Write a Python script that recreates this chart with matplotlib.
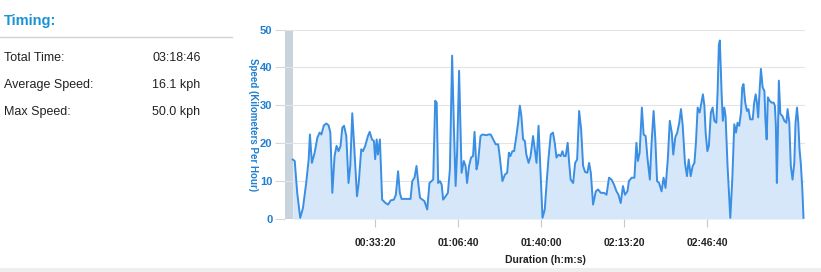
import matplotlib

matplotlib.use("Agg")
import matplotlib.pyplot as plt
from matplotlib.ticker import FuncFormatter, MultipleLocator

plt.rcParams["font.family"] = ["Liberation Sans", "DejaVu Sans"]

# ride summary (left panel)
summary_labels = ["Total Time:", "Average Speed:", "Max Speed:"]
summary_values = ["03:18:46", "16.1 kph", "50.0 kph"]

# x ticks every 2000 s, as on the chart
tick_seconds = [2000, 4000, 6000, 8000, 10000]

# speed trace: elapsed minutes / km per hour
elapsed_min = [
    0.3, 1.1, 2.1, 3.3, 4.4, 5.7, 6.7, 7.2, 8.0, 9.1, 10.2, 11.1, 11.8, 12.8, 13.8,
    14.7, 15.4, 16.2, 17.1, 17.9, 18.7, 19.5, 20.2, 20.9, 21.8, 22.7, 23.4, 24.2,
    24.9, 26.1, 26.8, 27.8, 28.5, 29.4, 30.5, 31.2, 32.1, 32.9,
    33.4, 34.0, 34.5, 35.3, 36.2, 37.6, 38.6, 39.6, 40.9, 41.7, 42.6, 43.3, 44.0,
    46.3, 47.6, 48.3, 49.2, 50.0, 50.7, 51.4, 52.4, 53.2, 54.3, 55.2, 56.0, 56.7,
    57.5, 58.1, 58.7, 59.4, 60.1, 60.7, 61.7, 62.6, 63.4, 64.3, 65.0, 65.7, 66.3, 67.1,
    68.1, 69.0, 69.7, 70.3, 71.1, 71.9, 72.7, 73.3, 74.1, 74.7, 75.7, 76.5, 78.1,
    78.9, 79.8, 80.8, 81.8, 82.8, 83.4, 84.5, 85.5, 86.4, 87.1, 87.7, 88.5, 89.2,
    90.1, 90.8, 91.5, 92.1, 92.8, 93.5, 94.1, 95.0, 95.8, 96.8, 97.5, 98.2, 99.0,
    99.6, 100.6, 101.5, 102.3, 103.0,
    103.9, 104.8, 105.5, 106.2, 107.0, 107.9, 108.6, 109.2, 109.9, 110.7, 111.3,
    111.9, 112.9, 113.7, 114.5, 115.3, 116.1, 116.9, 117.7, 118.6, 119.3, 120.0,
    120.9, 122.0, 122.9, 124.0, 125.3, 126.3, 127.3, 128.3, 129.3, 130.3, 131.1,
    132.0, 132.9, 133.7, 134.7, 135.3, 136.4,
    137.5, 138.3, 138.9, 139.6, 140.5, 141.2, 142.0, 142.8, 143.7, 144.4, 145.2,
    145.9, 146.6, 147.4, 148.4, 149.2, 150.0, 150.9, 151.7, 152.5, 153.1, 153.9,
    154.7, 155.5, 156.2, 156.9, 157.8, 158.6, 159.3, 160.1, 160.9, 161.6, 162.2,
    162.9, 163.7, 164.4, 165.0, 165.6, 166.1, 166.8, 167.4, 168.2, 168.9, 169.6,
    170.4, 170.9, 171.4,
    171.8, 172.5, 173.0, 173.6, 174.1, 174.9, 176.0, 176.8, 177.6, 178.3, 178.9,
    179.6, 180.3, 180.8, 181.3, 182.0, 182.7, 183.3, 184.0, 185.0, 185.6, 186.2,
    186.7, 187.2, 187.8, 188.3, 189.0, 189.7, 190.1, 190.6, 191.1, 191.8, 192.6,
    193.4, 193.9, 194.3, 194.7, 195.1, 195.5, 196.1, 196.9, 197.7, 198.5, 199.0,
    199.7, 200.3, 201.0, 201.7, 202.2, 202.8, 203.3, 203.8, 204.3, 204.9, 205.4,
]
speed_kph = [
    15.7, 15.3, 6.9, 0.3, 2.9, 9.5, 15.7, 22.3, 14.8, 17.5, 21.5, 22.8, 22.3, 24.7, 25.2,
    24.7, 22.8, 6.9, 16.6, 19.3, 17.9, 19.3, 24.1, 24.6, 21.9, 9.5, 14.0, 27.9,
    20.1, 6.0, 9.5, 18.4, 17.9, 19.3, 21.9, 23.0, 21.0, 20.6,
    15.8, 21.0, 17.0, 21.0, 5.1, 4.2, 3.8, 4.9, 5.1, 6.4, 12.6, 6.9, 5.3,
    5.3, 5.3, 10.0, 10.9, 14.0, 9.5, 5.6, 5.1, 4.7, 2.5, 9.5, 10.0, 10.4,
    31.2, 30.7, 9.5, 10.0, 9.1, 5.1, 6.0, 6.9, 13.1, 43.1, 24.6, 8.7, 17.5, 39.1,
    12.2, 15.3, 14.0, 9.5, 14.0, 16.2, 16.6, 23.0, 13.1, 14.8, 21.9, 22.3, 22.1,
    22.3, 22.3, 21.0, 19.7, 19.7, 16.6, 10.0, 11.7, 12.2, 17.5, 16.6, 17.9, 17.9,
    21.9, 25.4, 29.9, 27.2, 21.0, 20.6, 17.0, 14.8, 16.6, 21.9, 18.4, 14.8, 24.6,
    15.7, 0.3, 2.5, 10.0, 16.0,
    22.3, 22.8, 20.1, 16.2, 17.0, 16.6, 17.9, 16.6, 16.6, 20.1, 14.8,
    10.4, 9.5, 14.8, 15.7, 28.5, 23.7, 14.0, 12.4, 12.2, 14.8, 12.2,
    3.8, 7.3, 7.8, 6.9, 6.9, 6.4, 10.9, 10.4, 9.1, 7.3, 6.4,
    4.2, 8.7, 6.4, 7.3, 10.0, 10.9,
    10.9, 20.1, 15.3, 17.5, 29.4, 22.3, 21.9, 15.7, 10.4, 20.1, 28.5,
    21.0, 10.0, 9.5, 7.3, 10.9, 8.2, 15.7, 25.9, 22.8, 17.0, 21.5,
    22.8, 25.4, 29.0, 24.6, 14.8, 11.3, 15.7, 11.3, 14.0, 14.8, 20.1,
    29.4, 28.1, 30.7, 32.9, 29.9, 22.8, 17.9, 19.3, 28.1, 29.4, 25.9,
    25.4, 33.4, 45.8,
    47.1, 33.4, 25.9, 29.4, 27.2, 14.0, 0.3, 10.4, 25.0, 22.8, 25.4,
    24.6, 28.1, 34.7, 35.6, 30.7, 28.5, 29.0, 26.3, 26.3, 30.7, 32.9,
    30.7, 26.8, 34.3, 39.6, 34.7, 33.8, 26.3, 21.0, 32.1, 31.2, 30.7,
    30.7, 29.9, 24.6, 9.5, 21.9, 36.5, 27.7, 27.2, 25.9, 25.4, 29.0,
    25.4, 14.0, 10.4, 14.8, 25.4, 29.4, 25.4, 18.4, 14.8, 8.2, 0.3,
]

BLUE = "#1f7fcf"
LINE = "#3a8ee4"
FILL = "#d5e7f8"

W, H = 821, 272
fig = plt.figure(figsize=(W / 100, H / 100), dpi=100)
fig.patch.set_facecolor("white")


def fx(px):
    return px / W


def fy(py):
    return 1 - py / H


# left panel
fig.text(fx(4), fy(21), "Timing:", color="#1a93d4", fontsize=10.5,
         fontweight="bold", va="center", ha="left")
fig.add_artist(plt.Line2D([0, fx(232)], [fy(37), fy(37)], color="#d3d3d3", lw=1))
for i, (lab, val) in enumerate(zip(summary_labels, summary_values)):
    y = fy(58 + i * 27)
    fig.text(fx(4), y, lab, fontsize=9, color="#222222", va="center")
    fig.text(fx(152), y, val, fontsize=9, color="#222222", va="center")

# bottom strip
fig.add_artist(plt.Rectangle((0, 0), 1, fy(268), color="#eeeeee", lw=0))

ax = fig.add_axes([fx(285), fy(219), fx(805 - 285), (219 - 29.5) / H])
t_sec = [m * 60 for m in elapsed_min]
ax.fill_between(t_sec, speed_kph, 0, color=FILL, lw=0, zorder=1)
ax.plot(t_sec, speed_kph, color=LINE, lw=1.4, zorder=3, solid_joinstyle="round")

x0 = -7 * 24.07
ax.set_xlim(x0, 12360)
ax.set_ylim(0, 50)
ax.axvspan(x0, 0.4 * 60, color="#c9d3dc", lw=0, zorder=0.5)

ax.yaxis.set_major_locator(MultipleLocator(10))
ax.set_xticks(tick_seconds)
ax.grid(axis="y", color="#e4e4e4", lw=0.8, zorder=0)
ax.set_axisbelow(True)
for s in ax.spines.values():
    s.set_visible(False)


def hms(v, _pos):
    v = int(round(v))
    return f"{v // 3600:02d}:{v % 3600 // 60:02d}:{v % 60:02d}"


ax.xaxis.set_major_formatter(FuncFormatter(hms))
ax.tick_params(axis="x", length=6, color="#c8c8c8", width=0.8, pad=8,
               labelsize=7.5, labelcolor="#222222")
ax.tick_params(axis="y", length=7, color="#d8d8d8", width=0.8, pad=2,
               labelsize=8, labelcolor=BLUE)
for lab in ax.get_xticklabels() + ax.get_yticklabels():
    lab.set_fontweight("bold")

ax.set_xlabel("Duration (h:m:s)", fontsize=7.5, fontweight="bold",
              color="#222222", labelpad=5)
ax.set_ylabel("Speed (Kilometers Per Hour)", fontsize=7, fontweight="bold",
              color=BLUE, rotation=270, labelpad=8)
ax.yaxis.set_label_coords(fx(248 - 285) / fx(805 - 285), 0.5)

fig.savefig("out.png", dpi=100)
